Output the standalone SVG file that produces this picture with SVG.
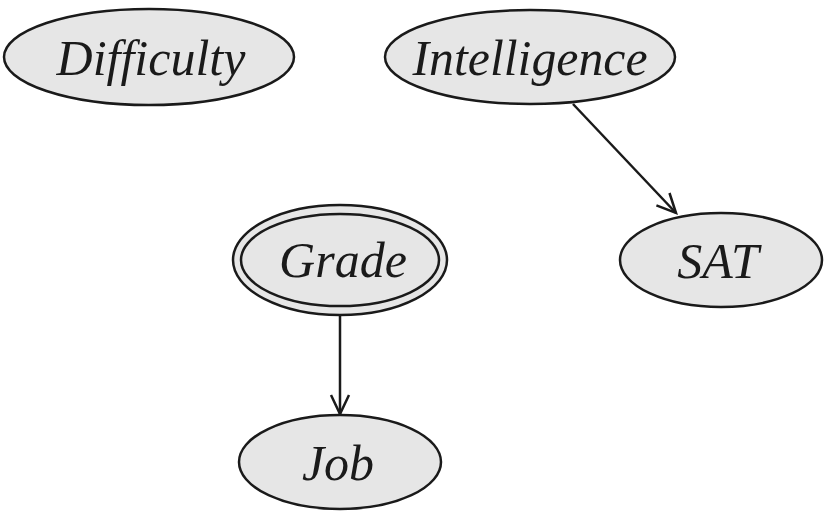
<svg xmlns="http://www.w3.org/2000/svg" width="830" height="520" viewBox="0 0 830 520">
<style>
.node{fill:#e6e6e6;stroke:#1a1a1a;stroke-width:2.5}
.lbl{font-family:"Liberation Serif","Times New Roman",serif;font-style:italic;font-size:50px;fill:#1a1a1a;text-anchor:middle}
.edge{stroke:#1a1a1a;stroke-width:2.5;fill:none}
</style>
<defs>
<marker id="arr" markerUnits="userSpaceOnUse" markerWidth="24" markerHeight="24" viewBox="-20 -12 24 24" refX="0" refY="0" orient="auto">
<path d="M-19,-9 L0,0 L-19,9" fill="none" stroke="#1a1a1a" stroke-width="2.5"/>
</marker>
</defs>
<g id="connectors">
<line class="edge" x1="573" y1="104" x2="676" y2="213" marker-end="url(#arr)"/>
<line class="edge" x1="340" y1="315" x2="340" y2="414" marker-end="url(#arr)"/>
</g>
<g id="Difficulty">
<ellipse class="node" cx="149" cy="57" rx="145" ry="48"/>
<text class="lbl" x="151" y="75">Difficulty</text>
</g>
<g id="Intelligence">
<ellipse class="node" cx="530" cy="57" rx="145" ry="47"/>
<text class="lbl" x="530" y="75" textLength="235" lengthAdjust="spacingAndGlyphs">Intelligence</text>
</g>
<g id="Grade">
<ellipse class="node" cx="340" cy="260" rx="107" ry="55"/>
<ellipse class="node" cx="340" cy="260" rx="99" ry="46"/>
<text class="lbl" x="343" y="277">Grade</text>
</g>
<g id="SAT">
<ellipse class="node" cx="721" cy="260" rx="101" ry="47"/>
<text class="lbl" x="718" y="278">SAT</text>
</g>
<g id="Job">
<ellipse class="node" cx="340" cy="462" rx="101" ry="47"/>
<text class="lbl" x="338" y="480">Job</text>
</g>
</svg>
